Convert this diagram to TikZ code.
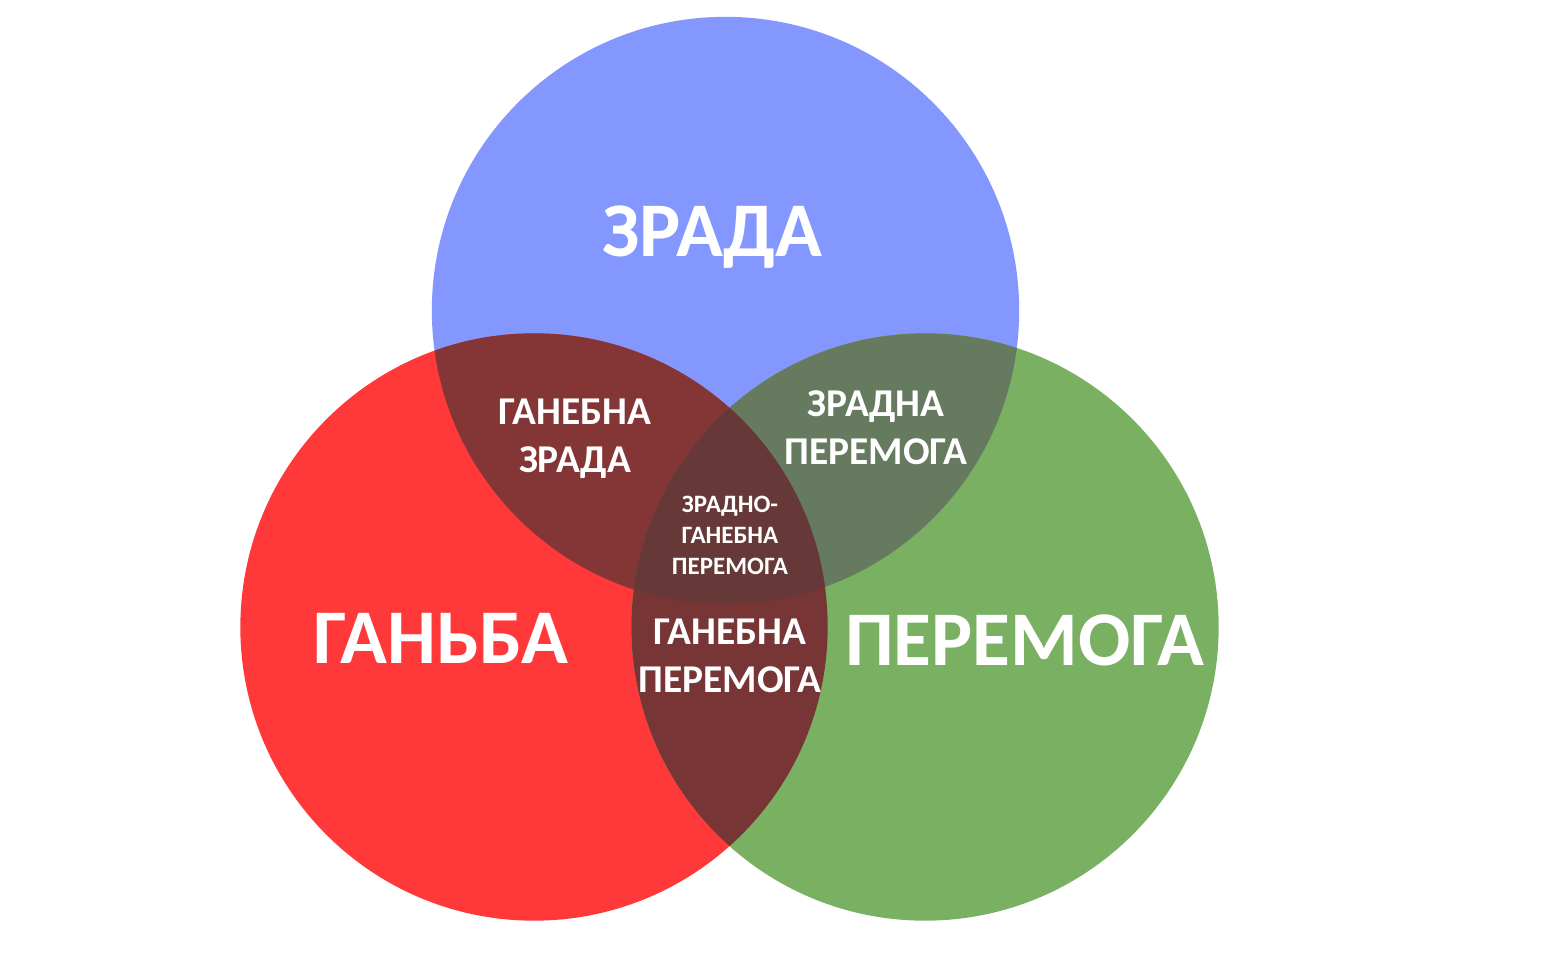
\documentclass[tikz,border=0pt]{standalone}
\usepackage{fontspec}
\setmainfont{Carlito}
\usepackage{tikz}
\usetikzlibrary{positioning}

\definecolor{zradablue}{HTML}{8497FF}
\definecolor{ganbared}{HTML}{FF3939}
\definecolor{peremogagreen}{HTML}{7AB062}
\definecolor{redblue}{HTML}{843637}
\definecolor{bluegreen}{HTML}{667A60}
\definecolor{redgreen}{HTML}{773536}
\definecolor{allthree}{HTML}{663838}

\begin{document}
\begin{tikzpicture}[x=0.01cm,y=-0.01cm,
    bigtext/.style={text=white,font=\bfseries\fontsize{22}{26}\selectfont,anchor=base,inner sep=0pt},
    midtext/.style={text=white,font=\bfseries\fontsize{11.2}{13.4}\selectfont,align=center,anchor=base,inner sep=0pt},
    smalltext/.style={text=white,font=\bfseries\fontsize{7.1}{8.8}\selectfont,align=center,anchor=base,inner sep=0pt}]
\useasboundingbox (0,0) rectangle (1548,970);

% Circle centres
\coordinate (zrada) at (725.5,310.5);
\coordinate (ganba) at (534,627);
\coordinate (peremoga) at (925,627);

% Circles
\fill[zradablue] (zrada) circle (2.935cm);
\fill[ganbared] (ganba) circle (2.935cm);
\fill[peremogagreen] (peremoga) circle (2.935cm);

% Overlaps
\begin{scope}
    \clip (zrada) circle (2.935cm);
    \fill[redblue] (ganba) circle (2.935cm);
    \fill[bluegreen] (peremoga) circle (2.935cm);
\end{scope}
\begin{scope}
    \clip (ganba) circle (2.935cm);
    \fill[redgreen] (peremoga) circle (2.935cm);
    \clip (peremoga) circle (2.935cm);
    \fill[allthree] (zrada) circle (2.935cm);
\end{scope}

% Labels (multi-line nodes sit on their last baseline)
\node[bigtext] (zradaLbl) at (712,257) {ЗРАДА};
\node[bigtext] (ganbaLbl) at (441,663) {ГАНЬБА};
\node[bigtext] (peremogaLbl) at (1025,665) {ПЕРЕМОГА};
\node[midtext] (redblueLbl) at (575,472) {ГАНЕБНА\\ЗРАДА};
\node[midtext] (bluegreenLbl) at (876,464) {ЗРАДНА\\ПЕРЕМОГА};
\node[midtext] (redgreenLbl) at (730,692) {ГАНЕБНА\\ПЕРЕМОГА};
\node[smalltext] (allLbl) at (730,574) {ЗРАДНО-\\ГАНЕБНА\\ПЕРЕМОГА};
\end{tikzpicture}
\end{document}
